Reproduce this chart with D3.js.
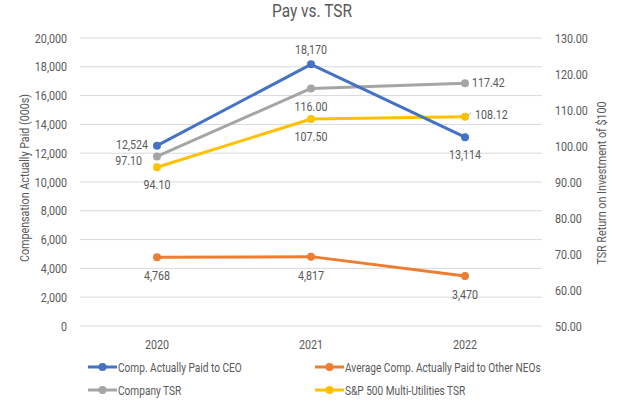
<!DOCTYPE html>
<html><head><meta charset="utf-8">
<script src="https://cdn.jsdelivr.net/npm/d3@7"></script>
<style>
body{margin:0;background:#fff;}
text{font-family:"Roboto","Liberation Sans",sans-serif;fill:#595959;}
</style></head>
<body><svg id="c" width="624" height="405"></svg>
<script>
const years = ["2020","2021","2022"];
const ceoPay = [12524, 18170, 13114];
const neoPay = [4768, 4817, 3470];
const companyTSR = [97.10, 116.00, 117.42];
const spTSR = [94.10, 107.50, 108.12];
const leftTicks = [0,2000,4000,6000,8000,10000,12000,14000,16000,18000,20000];
const rightTicks = [50,60,70,80,90,100,110,120,130];

const SX = 0.86;
const svg = d3.select("#c");
const x = d3.scaleBand().domain(years).range([80,542]);
const cx = d => x(d) + x.bandwidth()/2;
const yL = d3.scaleLinear().domain([0,20000]).range([326,38]);
const yR = d3.scaleLinear().domain([50,130]).range([326,38]);

function T(px, py, str, size, anchor, rot, sx){
  return svg.append("text")
    .attr("transform", `translate(${px},${py})` + (rot ? ` rotate(${rot})` : "") + ` scale(${sx || SX},1)`)
    .attr("text-anchor", anchor || "start").attr("font-size", size).text(str);
}

// gridlines
svg.append("g").selectAll("line").data(leftTicks).join("line")
  .attr("x1",80).attr("x2",542).attr("y1",d=>yL(d)).attr("y2",d=>yL(d))
  .attr("stroke","#d9d9d9").attr("stroke-width",1);

const fmt = d3.format(",");
const la = svg.append("g").attr("transform","translate(80,0)")
  .call(d3.axisLeft(yL).tickValues(leftTicks).tickFormat(fmt).tickSize(0).tickPadding(15));
la.select(".domain").remove();
la.selectAll("text").attr("font-size",12.5).style("font-family",null).attr("transform",`scale(${SX},1)`);

const ra = svg.append("g").attr("transform","translate(542,0)")
  .call(d3.axisRight(yR).tickValues(rightTicks).tickFormat(d3.format(".2f")).tickSize(0).tickPadding(15));
ra.select(".domain").remove();
ra.selectAll("text").attr("font-size",12.5).style("font-family",null).attr("transform",`scale(${SX},1)`);

const xa = svg.append("g").attr("transform","translate(0,326)")
  .call(d3.axisBottom(x).tickSize(0).tickPadding(14));
xa.select(".domain").remove();
xa.selectAll("text").attr("font-size",12.5).style("font-family",null).attr("transform",`scale(${SX},1)`);

// titles
T(312, 17, "Pay vs. TSR", 18, "middle", 0, 0.86);
T(29, 178, "Compensation Actually Paid (000s)", 12.5, "middle", -90);
T(606, 183, "TSR Return on Investment of $100", 12.5, "middle", -90);

const series = [
  {name:"Comp. Actually Paid to CEO", vals:ceoPay, y:yL, color:"#4472C4"},
  {name:"Average Comp. Actually Paid to Other NEOs", vals:neoPay, y:yL, color:"#ED7D31"},
  {name:"Company TSR", vals:companyTSR, y:yR, color:"#A5A5A5"},
  {name:"S&P 500 Multi-Utilities TSR", vals:spTSR, y:yR, color:"#FFC000"}
];
const drawOrder = [1,3,2,0];
const line = (s) => d3.line().x((d,i)=>cx(years[i])).y(d=>s.y(d));
drawOrder.forEach(k=>{
  const s = series[k];
  svg.append("path").datum(s.vals).attr("d",line(s)).attr("fill","none")
    .attr("stroke",s.color).attr("stroke-width",3).attr("stroke-linejoin","round");
  svg.append("g").selectAll("circle").data(s.vals).join("circle")
    .attr("cx",(d,i)=>cx(years[i])).attr("cy",d=>s.y(d)).attr("r",4).attr("fill",s.color);
});

// leader for 108.12
svg.append("line").attr("x1",cx("2022")+2).attr("x2",cx("2022")+6)
  .attr("y1",yR(spTSR[2])-1).attr("y2",yR(spTSR[2])-4).attr("stroke","#A5A5A5").attr("stroke-width",1);

// data labels: [dx, dy, anchor]
const labelPos = [
  [[-9,3.5,"end"],[0,-10,"middle"],[0,22,"middle"]],
  [[0,23,"middle"],[0,23,"middle"],[0,23,"middle"]],
  [[-15,9,"end"],[0,23,"middle"],[7,4,"start"]],
  [[0,22,"middle"],[0,22,"middle"],[10,2,"start"]]
];
const fmtL = [fmt, fmt, d3.format(".2f"), d3.format(".2f")];
series.forEach((s,k)=>{
  s.vals.forEach((v,i)=>{
    const p = labelPos[k][i];
    T(cx(years[i])+p[0], s.y(v)+p[1], fmtL[k](v), 12, p[2], 0, 0.89);
  });
});

// legend
const leg = [
  {s:0, x:88, y:367},{s:1, x:315, y:367},{s:2, x:88, y:390},{s:3, x:315, y:390}
];
leg.forEach(l=>{
  const s = series[l.s];
  svg.append("line").attr("x1",l.x).attr("x2",l.x+29).attr("y1",l.y).attr("y2",l.y)
    .attr("stroke",s.color).attr("stroke-width",3);
  svg.append("circle").attr("cx",l.x+14.5).attr("cy",l.y).attr("r",4).attr("fill",s.color);
  T(l.x+30, l.y+4.5, s.name, 12.5, "start", 0, 0.81);
});
</script></body></html>
